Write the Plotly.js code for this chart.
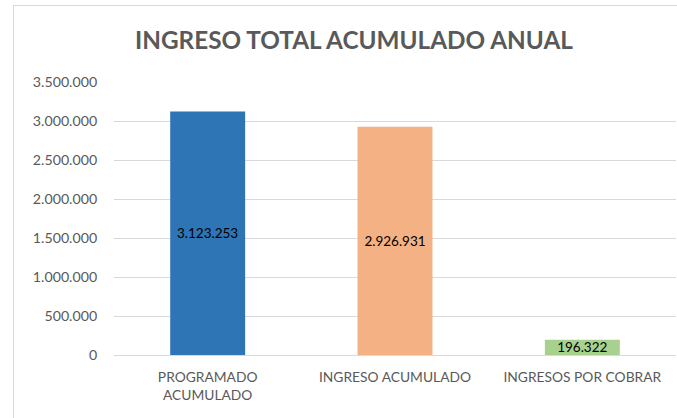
<!DOCTYPE html>
<html>
<head>
<meta charset="utf-8">
<script src="https://cdn.plot.ly/plotly-3.0.1.min.js"></script>
<style>
  html, body { margin: 0; padding: 0; background: #ffffff; }
  #wrap { position: relative; width: 677px; height: 418px; overflow: hidden; }
  #frame { position: absolute; left: 13px; top: 5px; width: 700px; height: 440px; border: 1px solid #d9d9d9; box-sizing: border-box; }
  #chart { position: absolute; left: 0; top: 0; width: 677px; height: 418px; }
</style>
</head>
<body>
<div id="wrap">
  <div id="frame"></div>
  <div id="chart"></div>
</div>
<script>
const categories = ["PROGRAMADO<br>ACUMULADO", "INGRESO ACUMULADO", "INGRESOS POR COBRAR"];
const values = [3123253, 2926931, 196322];
const barColors = ["#2E75B6", "#F4B183", "#A9D18E"];
const tickValues = [0, 500000, 1000000, 1500000, 2000000, 2500000, 3000000, 3500000];
const chartTitle = "INGRESO TOTAL ACUMULADO ANUAL";

const trace = {
  type: "bar",
  x: categories,
  y: values,
  marker: { color: barColors, line: { width: 0 } },
  texttemplate: "%{y:,.0f}",
  textposition: "inside",
  insidetextanchor: "middle",
  constraintext: "none",
  textangle: 0,
  cliponaxis: false,
  textfont: { family: "Lato, 'Open Sans', sans-serif", size: 13.5, color: "#000000" },
  hoverinfo: "none"
};

const layout = {
  width: 677,
  height: 418,
  margin: { l: 114, r: 1, t: 82, b: 63, pad: 0 },
  paper_bgcolor: "rgba(0,0,0,0)",
  plot_bgcolor: "rgba(0,0,0,0)",
  separators: ",.",
  showlegend: false,
  bargap: 0.6,
  font: { family: "Lato, 'Open Sans', sans-serif", size: 13.5, color: "#595959" },
  title: {
    text: "<b>" + chartTitle + "</b>",
    font: { family: "Lato, 'Open Sans', sans-serif", size: 24.3, color: "#595959" },
    x: 354 / 677,
    xanchor: "center",
    xref: "container",
    y: 1 - 40 / 418,
    yanchor: "middle",
    yref: "container"
  },
  xaxis: {
    type: "category",
    range: [-0.5, 2.5],
    showgrid: false,
    showline: false,
    ticks: "outside",
    ticklen: 9,
    tickcolor: "rgba(0,0,0,0)",
    tickfont: { size: 13.8, color: "#595959" }
  },
  yaxis: {
    range: [0, 3500000],
    tickvals: tickValues,
    tickformat: ",.0f",
    showgrid: true,
    gridcolor: "#d9d9d9",
    gridwidth: 1,
    zeroline: true,
    zerolinecolor: "#d9d9d9",
    zerolinewidth: 1,
    showline: false,
    ticks: "outside",
    ticklen: 13,
    tickcolor: "rgba(0,0,0,0)",
    tickfont: { size: 14.2, color: "#595959" }
  }
};

Plotly.newPlot("chart", [trace], layout, { displayModeBar: false, staticPlot: true });
</script>
</body>
</html>
